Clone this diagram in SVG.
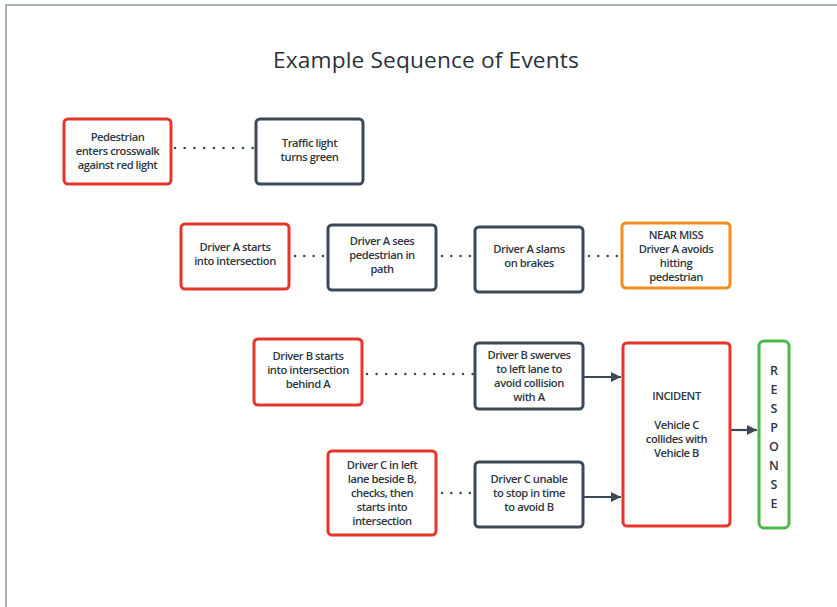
<svg xmlns="http://www.w3.org/2000/svg" width="837" height="607" viewBox="0 0 837 607">
<defs>
<style>
.frame{fill:none;stroke:#8c96a2;stroke-width:1.5}
.box{fill:#fff;stroke-width:3}
.red{stroke:#e8352b}
.dk{stroke:#3b4957}
.or{stroke:#f28c1e}
.gr{stroke:#4cb848}
text{font-family:"Open Sans","Noto Sans",sans-serif;font-size:11.2px;font-weight:600;fill:#2e3742;text-anchor:middle;letter-spacing:-0.45px}
.title{font-family:"Open Sans","Noto Sans",sans-serif;font-size:22.7px;font-weight:500;letter-spacing:0.15px;fill:#2a323c}
.rs{font-size:12.5px;letter-spacing:0}
.dots{fill:none;stroke:#3b4957;stroke-width:2.6;stroke-linecap:round}
.arr{fill:none;stroke:#3b4957;stroke-width:2.2}
</style>
<marker id="ah" viewBox="0 0 10 10" refX="10" refY="5" markerWidth="10" markerHeight="10" markerUnits="userSpaceOnUse" orient="auto">
<path d="M0,0 L10,5 L0,10 Z" fill="#3b4957"/>
</marker>
</defs>
<rect width="837" height="607" fill="#fff"/>
<path class="frame" d="M6,607 V5 H837"/>
<text class="title" x="426" y="68">Example Sequence of Events</text>

<g id="connectors">
<path class="dots" stroke-dasharray="0 9.7" d="M175,148 H253.5"/>
<path class="dots" stroke-dasharray="0 9.3" d="M295,256 H323.5"/>
<path class="dots" stroke-dasharray="0 9.3" d="M442,256 H470.5"/>
<path class="dots" stroke-dasharray="0 9.3" d="M589,256 H617.5"/>
<path class="dots" stroke-dasharray="0 9.6" d="M367,374 H473"/>
<path class="dots" stroke-dasharray="0 9.3" d="M442,493 H470.5"/>
<path class="arr" marker-end="url(#ah)" d="M583,377 H621"/>
<path class="arr" marker-end="url(#ah)" d="M583,497 H621"/>
<path class="arr" marker-end="url(#ah)" d="M730,430 H757"/>
</g>

<g id="n-pedestrian">
<rect class="box red" x="64" y="119" width="107" height="65" rx="4"/>
<text x="117.5" y="141">Pedestrian</text>
<text x="117.5" y="155">enters crosswalk</text>
<text x="117.5" y="169">against red light</text>
</g>
<g id="n-traffic">
<rect class="box dk" x="256" y="119" width="107" height="65" rx="4"/>
<text x="309.5" y="147">Traffic light</text>
<text x="309.5" y="161">turns green</text>
</g>

<g id="n-a-starts">
<rect class="box red" x="181" y="224" width="108" height="65" rx="4"/>
<text x="235" y="251">Driver A starts</text>
<text x="235" y="265">into intersection</text>
</g>
<g id="n-a-sees">
<rect class="box dk" x="328" y="225" width="108" height="65" rx="4"/>
<text x="382" y="245">Driver A sees</text>
<text x="382" y="259">pedestrian in</text>
<text x="382" y="273">path</text>
</g>
<g id="n-a-slams">
<rect class="box dk" x="475" y="227" width="108" height="65" rx="4"/>
<text x="529" y="253">Driver A slams</text>
<text x="529" y="267">on brakes</text>
</g>
<g id="n-near-miss">
<rect class="box or" x="622" y="223" width="108" height="65" rx="4"/>
<text x="676" y="239">NEAR MISS</text>
<text x="676" y="253">Driver A avoids</text>
<text x="676" y="267">hitting</text>
<text x="676" y="281">pedestrian</text>
</g>

<g id="n-b-starts">
<rect class="box red" x="254" y="339" width="108" height="66" rx="4"/>
<text x="308" y="360">Driver B starts</text>
<text x="308" y="374">into intersection</text>
<text x="308" y="388">behind A</text>
</g>
<g id="n-b-swerves">
<rect class="box dk" x="475" y="343" width="108" height="66" rx="4"/>
<text x="529" y="359">Driver B swerves</text>
<text x="529" y="373">to left lane to</text>
<text x="529" y="387">avoid collision</text>
<text x="529" y="401">with A</text>
</g>

<g id="n-c-left">
<rect class="box red" x="328" y="451" width="108" height="84" rx="4"/>
<text x="382" y="469">Driver C in left</text>
<text x="382" y="483">lane beside B,</text>
<text x="382" y="497">checks, then</text>
<text x="382" y="511">starts into</text>
<text x="382" y="525">intersection</text>
</g>
<g id="n-c-unable">
<rect class="box dk" x="475" y="462" width="108" height="65" rx="4"/>
<text x="529" y="483">Driver C unable</text>
<text x="529" y="497">to stop in time</text>
<text x="529" y="511">to avoid B</text>
</g>

<g id="n-incident">
<rect class="box red" x="623" y="343" width="107" height="183" rx="4"/>
<text x="676.5" y="400">INCIDENT</text>
<text x="676.5" y="429">Vehicle C</text>
<text x="676.5" y="443">collides with</text>
<text x="676.5" y="457">Vehicle B</text>
</g>

<g id="n-response">
<rect class="box gr" x="759" y="341" width="30" height="187" rx="5"/>
<text class="rs" x="774" y="375">R</text>
<text class="rs" x="774" y="394">E</text>
<text class="rs" x="774" y="413">S</text>
<text class="rs" x="774" y="432">P</text>
<text class="rs" x="774" y="451">O</text>
<text class="rs" x="774" y="470">N</text>
<text class="rs" x="774" y="489">S</text>
<text class="rs" x="774" y="508">E</text>
</g>
</svg>
